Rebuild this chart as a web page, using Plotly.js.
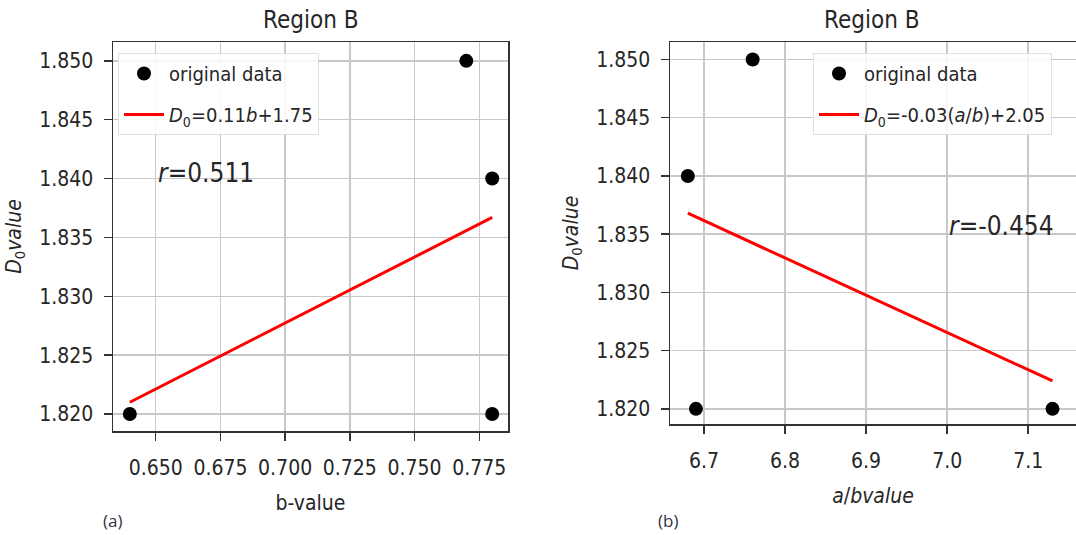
<!DOCTYPE html>
<html>
<head>
<meta charset="utf-8">
<script src="https://cdn.plot.ly/plotly-3.0.1.min.js"></script>
<style>html,body{margin:0;padding:0;background:#fff;}#chart{width:1076px;height:535px;}</style>
</head>
<body>
<div id="chart"></div>
<script>
// Panel (a): D0 vs b-value
const bValues = [0.64, 0.77, 0.78, 0.78];
const d0A = [1.82, 1.85, 1.84, 1.82];
const fitAx = [0.64, 0.78];
const fitAy = [1.8210, 1.8367];
// Panel (b): D0 vs a/b value
const abValues = [6.68, 6.76, 6.69, 7.13];
const d0B = [1.84, 1.85, 1.82, 1.82];
const fitBx = [6.68, 7.13];
const fitBy = [1.8368, 1.8224];
const yTicks = [1.820, 1.825, 1.830, 1.835, 1.840, 1.845, 1.850];
const yTickText = ['1.820', '1.825', '1.830', '1.835', '1.840', '1.845', '1.850'];
const xTicksA = [0.650, 0.675, 0.700, 0.725, 0.750, 0.775];
const xTickTextA = ['0.650', '0.675', '0.700', '0.725', '0.750', '0.775'];
const xTicksB = [6.7, 6.8, 6.9, 7.0, 7.1];
const xTickTextB = ['6.7', '6.8', '6.9', '7.0', '7.1'];

const FONT = '"DejaVu Sans Condensed", "DejaVu Sans", sans-serif';
const TXT = '#262626';

const traces = [
  {x: bValues, y: d0A, mode: 'markers', type: 'scatter', name: 'original data',
   marker: {color: '#000', size: 14}, xaxis: 'x', yaxis: 'y', legend: 'legend', legendgroup: 'a1'},
  {x: fitAx, y: fitAy, mode: 'lines', type: 'scatter', name: '<i>D</i><sub>0</sub>=0.11<i>b</i>+1.75',
   line: {color: '#ff0000', width: 3}, xaxis: 'x', yaxis: 'y', legend: 'legend', legendgroup: 'a2'},
  {x: abValues, y: d0B, mode: 'markers', type: 'scatter', name: 'original data',
   marker: {color: '#000', size: 14}, xaxis: 'x2', yaxis: 'y2', legend: 'legend2', legendgroup: 'b1'},
  {x: fitBx, y: fitBy, mode: 'lines', type: 'scatter', name: '<i>D</i><sub>0</sub>=-0.03(<i>a</i>/<i>b</i>)+2.05',
   line: {color: '#ff0000', width: 3}, xaxis: 'x2', yaxis: 'y2', legend: 'legend2', legendgroup: 'b2'}
];

const axBase = {
  showline: true, mirror: true, linecolor: '#333', linewidth: 1.5,
  showgrid: true, gridcolor: '#c8c8c8', gridwidth: 1.5,
  ticks: 'outside', ticklen: 8, tickwidth: 1.5, tickcolor: '#333',
  tickfont: {family: FONT, size: 21, color: TXT},
  zeroline: false, tickmode: 'array', fixedrange: true
};

const legBase = {
  xanchor: 'left', yanchor: 'top', xref: 'paper', yref: 'paper',
  bgcolor: 'rgba(255,255,255,0.85)', bordercolor: '#e0e0e0', borderwidth: 1,
  font: {family: FONT, size: 20, color: TXT}, tracegroupgap: 12, itemwidth: 40
};

const layout = {
  width: 1076, height: 535,
  margin: {l: 0, r: 0, t: 0, b: 0},
  paper_bgcolor: '#fff', plot_bgcolor: '#fff',
  showlegend: true,
  xaxis: Object.assign({}, axBase, {
    domain: [113/1076, 508/1076], range: [0.6335, 0.7861], anchor: 'y',
    tickvals: xTicksA, ticktext: xTickTextA, ticklabelstandoff: 9,
    title: {text: 'b-value', font: {family: FONT, size: 21, color: TXT}, standoff: 16}
  }),
  yaxis: Object.assign({}, axBase, {
    domain: [1 - 431/535, 1 - 42/535], range: [1.81856, 1.8516], anchor: 'x',
    tickvals: yTicks, ticktext: yTickText, ticklabelstandoff: 6,
    title: {text: '<i>D</i><sub>0</sub><i>value</i>', font: {family: FONT, size: 21, color: TXT}, standoff: 12}
  }),
  xaxis2: Object.assign({}, axBase, {
    domain: [670/1076, 1.0], range: [6.658, 7.159], anchor: 'y2',
    tickvals: xTicksB, ticktext: xTickTextB, ticklabelstandoff: 9,
    title: {text: '<i>a</i>/<i>bvalue</i>', font: {family: FONT, size: 21, color: TXT}, standoff: 16}
  }),
  yaxis2: Object.assign({}, axBase, {
    domain: [1 - 424/535, 1 - 42/535], range: [1.8187, 1.8515], anchor: 'x2',
    tickvals: yTicks, ticktext: yTickText, ticklabelstandoff: 6,
    title: {text: '<i>D</i><sub>0</sub><i>value</i>', font: {family: FONT, size: 21, color: TXT}, standoff: 12}
  }),
  legend: Object.assign({}, legBase, {x: 118/1076, y: 1 - 53/535}),
  legend2: Object.assign({}, legBase, {x: 813/1076, y: 1 - 53/535}),
  annotations: [
    {text: 'Region B', xref: 'paper', yref: 'paper', x: 310/1076, y: 1 - 20/535,
     xanchor: 'center', yanchor: 'middle', showarrow: false, font: {family: FONT, size: 24, color: TXT}},
    {text: 'Region B', xref: 'paper', yref: 'paper', x: 872/1076, y: 1 - 20/535,
     xanchor: 'center', yanchor: 'middle', showarrow: false, font: {family: FONT, size: 24, color: TXT}},
    {text: '<i>r</i>=0.511', xref: 'x', yref: 'y', x: 0.6502, y: 1.8405,
     xanchor: 'left', yanchor: 'middle', showarrow: false, font: {family: FONT, size: 26, color: TXT}},
    {text: '<i>r</i>=-0.454', xref: 'x2', yref: 'y2', x: 7.0, y: 1.8357,
     xanchor: 'left', yanchor: 'middle', showarrow: false, font: {family: FONT, size: 26, color: TXT}},
    {text: '(a)', xref: 'paper', yref: 'paper', x: 112/1076, y: 1 - 520/535,
     xanchor: 'center', yanchor: 'middle', showarrow: false, font: {family: '"Open Sans", sans-serif', size: 17, color: '#333344'}},
    {text: '(b)', xref: 'paper', yref: 'paper', x: 668/1076, y: 1 - 520/535,
     xanchor: 'center', yanchor: 'middle', showarrow: false, font: {family: '"Open Sans", sans-serif', size: 17, color: '#333344'}}
  ]
};

Plotly.newPlot('chart', traces, layout, {displayModeBar: false, staticPlot: true});
</script>
</body>
</html>
